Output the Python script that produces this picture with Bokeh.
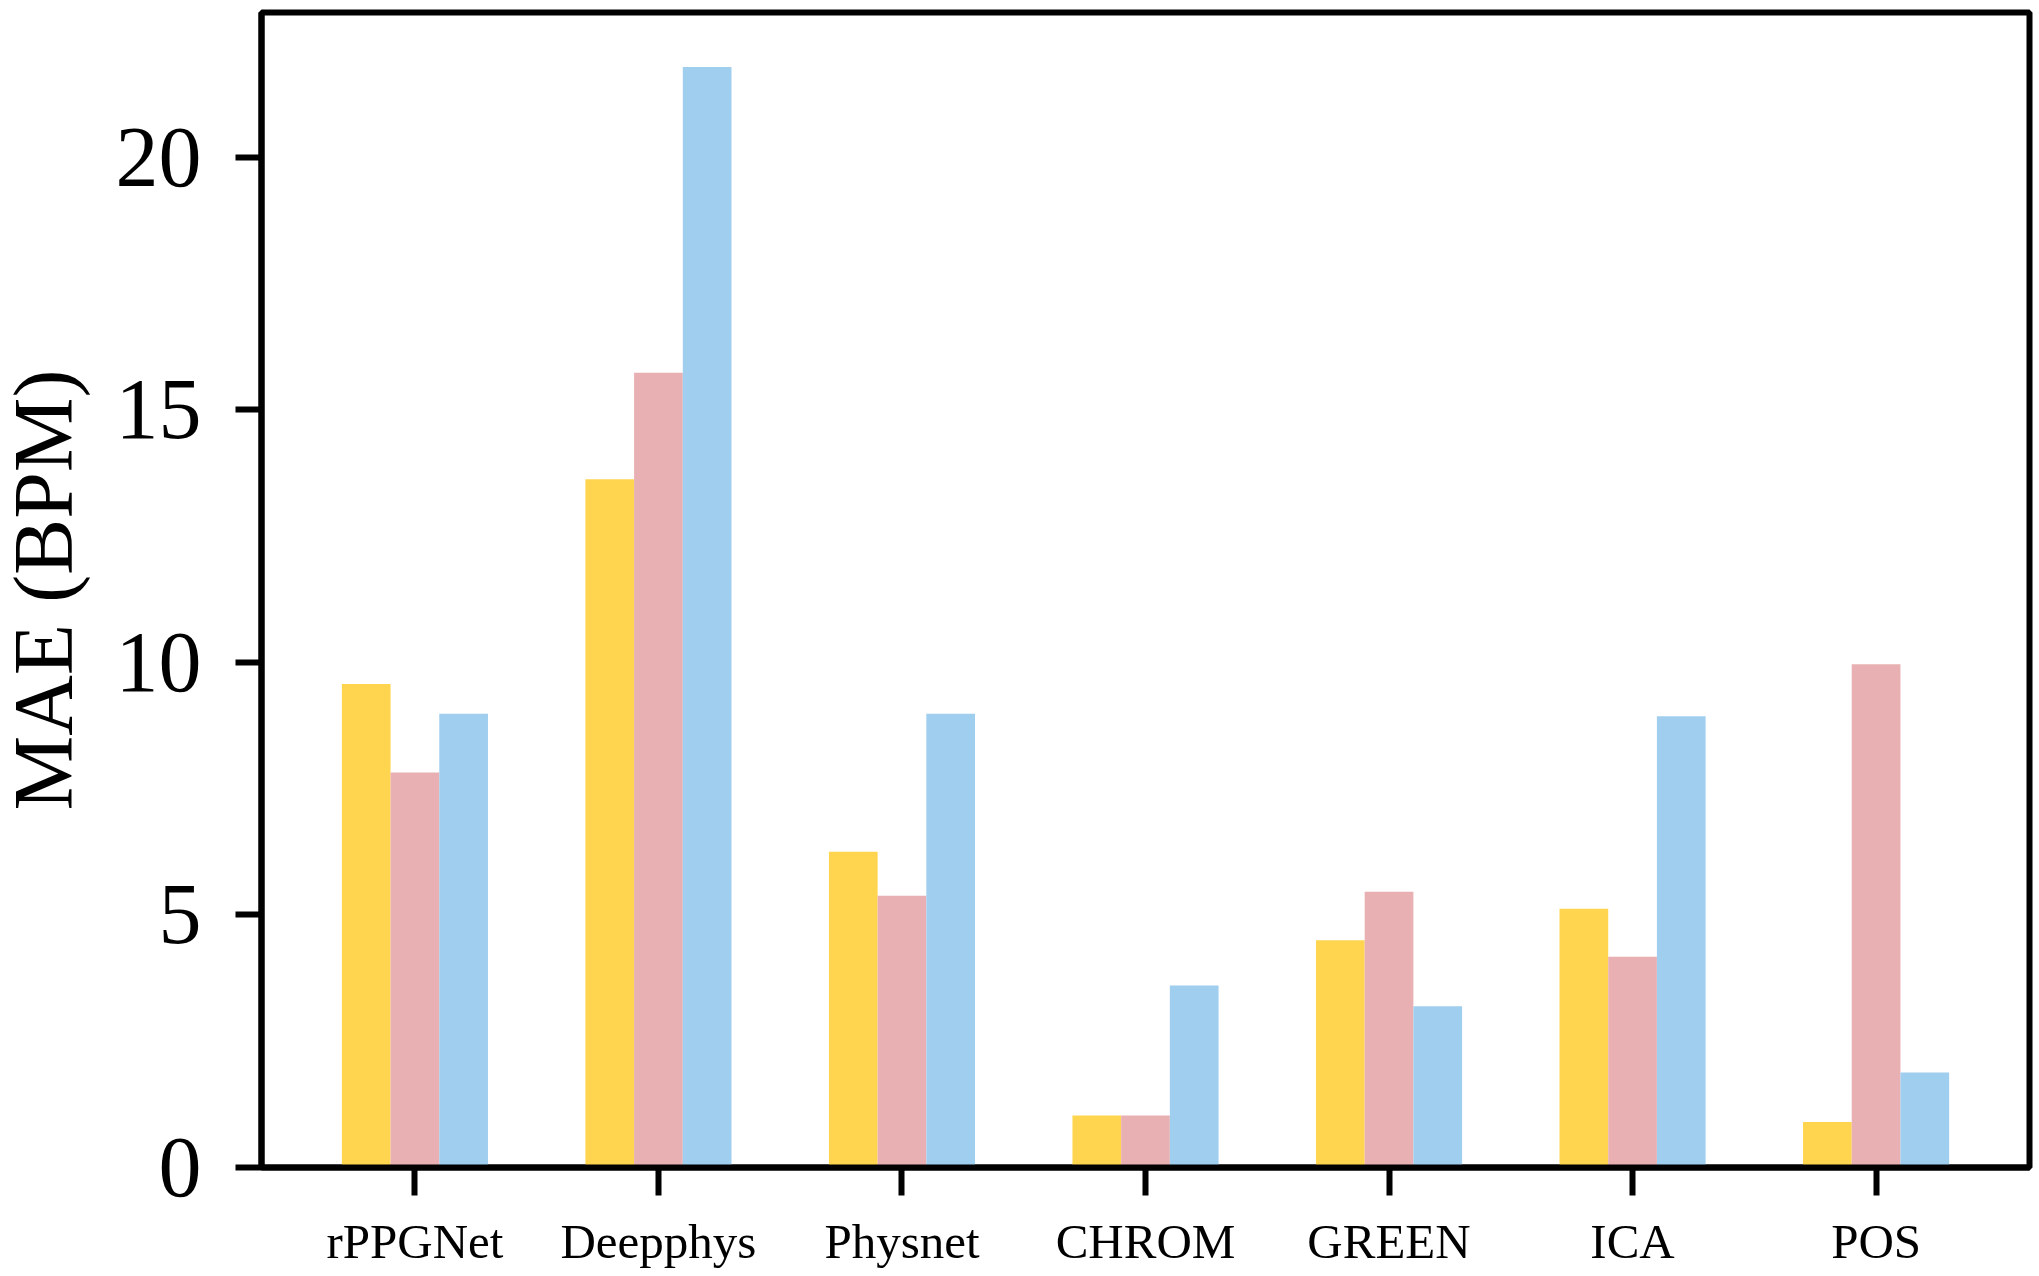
from bokeh.plotting import figure
from bokeh.models import ColumnDataSource, FactorRange, Range1d, FixedTicker, Title
from bokeh.transform import dodge
from bokeh.embed import file_html
from bokeh.resources import INLINE

methods = ["rPPGNet", "Deepphys", "Physnet", "CHROM", "GREEN", "ICA", "POS"]
series_a = [9.57, 13.62, 6.25, 1.03, 4.50, 5.12, 0.90]   # yellow
series_b = [7.82, 15.73, 5.38, 1.03, 5.46, 4.17, 9.96]   # pink
series_c = [8.98, 21.78, 8.98, 3.60, 3.19, 8.93, 1.88]   # blue
y_ticks = [0, 5, 10, 15, 20]
y_label = "MAE (BPM)"

colors = ["#FFD54F", "#E8B0B2", "#A0CEEE"]

src = ColumnDataSource(dict(m=methods, a=series_a, b=series_b, c=series_c))

shift = 29
p = figure(
    width=2039 + shift, height=1276,
    x_range=FactorRange(factors=methods, range_padding=0.13, range_padding_units="absolute"),
    y_range=Range1d(0, 22.86),
    output_backend="svg", toolbar_location=None,
    min_border_left=261 + shift, min_border_right=10, min_border_top=12, min_border_bottom=109,
)
p.styles = {"margin-left": f"-{shift}px"}

w = 0.2
p.vbar(x=dodge("m", -0.2, range=p.x_range), top="a", width=w, source=src, color=colors[0], line_color=None)
p.vbar(x=dodge("m", 0.0, range=p.x_range), top="b", width=w, source=src, color=colors[1], line_color=None)
p.vbar(x=dodge("m", 0.2, range=p.x_range), top="c", width=w, source=src, color=colors[2], line_color=None)

p.xgrid.visible = False
p.ygrid.visible = False
p.outline_line_color = "black"
p.outline_line_width = 6
p.background_fill_color = "white"
p.border_fill_color = "white"

font = "Liberation Serif"
for ax in (p.xaxis[0], p.yaxis[0]):
    ax.axis_line_width = 6
    ax.axis_line_color = "black"
    ax.major_tick_line_width = 6
    ax.major_tick_line_color = "black"
    ax.major_tick_in = 0
    ax.minor_tick_line_color = None
    ax.major_label_text_font = font
    ax.major_label_text_color = "black"

p.xaxis.major_tick_out = 28
p.xaxis.major_label_standoff = 18
p.xaxis.major_label_text_font_size = "49px"

p.yaxis.ticker = FixedTicker(ticks=y_ticks)
p.yaxis.major_tick_out = 26
p.yaxis.major_label_standoff = 34
p.yaxis.major_label_text_font_size = "86px"

# y-axis title as a side title
p.add_layout(Title(
    text=y_label, align="center",
    text_font=font, text_font_size="84px", text_font_style="normal",
    text_color="black", standoff=46,
), "left")

open("out.html", "w").write(file_html(p, INLINE))
